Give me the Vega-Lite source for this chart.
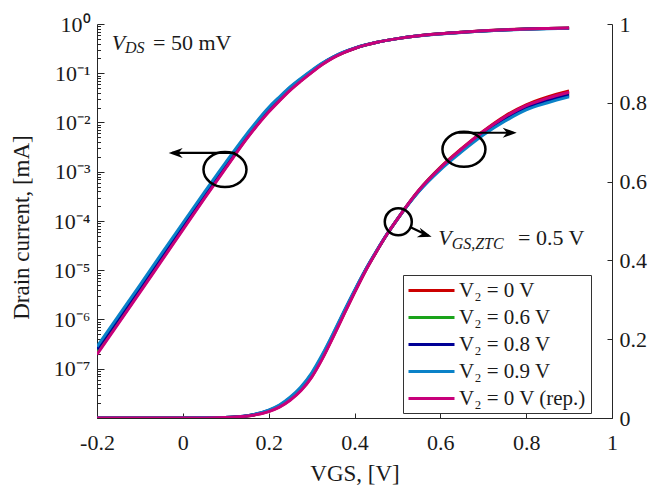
{
  "$schema": "https://vega.github.io/schema/vega-lite/v6.json",
  "width": 515,
  "height": 394,
  "autosize": "none",
  "padding": {"left": 97, "top": 24, "right": 41, "bottom": 68},
  "config": {
    "view": {"stroke": null},
    "font": "Liberation Serif",
    "axis": {"grid": false, "domainColor": "#262626", "tickColor": "#262626", "labelColor": "#1a1a1a", "labelFont": "Liberation Serif", "labelFontSize": 22, "titleFont": "Liberation Serif", "titleFontSize": 23, "titleFontWeight": "normal", "titleColor": "#1a1a1a", "domainWidth": 1, "tickWidth": 1, "labelFlush": false, "labelOverlap": false},
    "text": {"font": "Liberation Serif", "fontSize": 22, "color": "#1a1a1a", "align": "left", "baseline": "alphabetic"},
    "legend": {"orient": "none", "legendX": 306, "legendY": 251, "direction": "vertical", "title": null, "symbolType": "M-1,0L3.6,0", "symbolSize": 400, "symbolStrokeWidth": 3, "labelFont": "Liberation Serif", "labelFontSize": 21, "labelColor": "#1a1a1a", "labelOffset": 29, "rowPadding": 5, "padding": 4, "strokeColor": "#333333", "fillColor": "white", "labelLimit": 300, "cornerRadius": 0}
  },
  "datasets": {
    "curves": [
      {"s": "0 V", "v": -0.2, "i": 2.05e-7}, {"s": "0 V", "v": -0.15, "i": 8.7e-7}, {"s": "0 V", "v": -0.1, "i": 3.7e-6}, {"s": "0 V", "v": -0.05, "i": 1.6e-5}, {"s": "0 V", "v": 0, "i": 6.9e-5}, {"s": "0 V", "v": 0.05, "i": 2.95e-4}, {"s": "0 V", "v": 0.1, "i": 1.22e-3}, {"s": "0 V", "v": 0.15, "i": 4.95e-3}, {"s": "0 V", "v": 0.2, "i": 0.0168}, {"s": "0 V", "v": 0.225, "i": 0.0281}, {"s": "0 V", "v": 0.25, "i": 0.0459}, {"s": "0 V", "v": 0.275, "i": 0.0702}, {"s": "0 V", "v": 0.3, "i": 0.1044}, {"s": "0 V", "v": 0.325, "i": 0.1514}, {"s": "0 V", "v": 0.35, "i": 0.2061}, {"s": "0 V", "v": 0.375, "i": 0.263}, {"s": "0 V", "v": 0.4, "i": 0.3187}, {"s": "0 V", "v": 0.425, "i": 0.3724}, {"s": "0 V", "v": 0.45, "i": 0.4202}, {"s": "0 V", "v": 0.475, "i": 0.465}, {"s": "0 V", "v": 0.5, "i": 0.505}, {"s": "0 V", "v": 0.55, "i": 0.578}, {"s": "0 V", "v": 0.6, "i": 0.636}, {"s": "0 V", "v": 0.65, "i": 0.684}, {"s": "0 V", "v": 0.7, "i": 0.728}, {"s": "0 V", "v": 0.75, "i": 0.766}, {"s": "0 V", "v": 0.8, "i": 0.795}, {"s": "0 V", "v": 0.85, "i": 0.815}, {"s": "0 V", "v": 0.9, "i": 0.83},
      {"s": "0.6 V", "v": -0.2, "i": 2.25e-7}, {"s": "0.6 V", "v": -0.15, "i": 9.5e-7}, {"s": "0.6 V", "v": -0.1, "i": 4.05e-6}, {"s": "0.6 V", "v": -0.05, "i": 1.75e-5}, {"s": "0.6 V", "v": 0, "i": 7.4e-5}, {"s": "0.6 V", "v": 0.05, "i": 3.1e-4}, {"s": "0.6 V", "v": 0.1, "i": 1.29e-3}, {"s": "0.6 V", "v": 0.15, "i": 5.3e-3}, {"s": "0.6 V", "v": 0.2, "i": 0.0183}, {"s": "0.6 V", "v": 0.225, "i": 0.0303}, {"s": "0.6 V", "v": 0.25, "i": 0.0488}, {"s": "0.6 V", "v": 0.275, "i": 0.0738}, {"s": "0.6 V", "v": 0.3, "i": 0.1087}, {"s": "0.6 V", "v": 0.325, "i": 0.1556}, {"s": "0.6 V", "v": 0.35, "i": 0.2096}, {"s": "0.6 V", "v": 0.375, "i": 0.2659}, {"s": "0.6 V", "v": 0.4, "i": 0.3209}, {"s": "0.6 V", "v": 0.425, "i": 0.3737}, {"s": "0.6 V", "v": 0.45, "i": 0.4208}, {"s": "0.6 V", "v": 0.475, "i": 0.4652}, {"s": "0.6 V", "v": 0.5, "i": 0.505}, {"s": "0.6 V", "v": 0.55, "i": 0.577}, {"s": "0.6 V", "v": 0.6, "i": 0.634}, {"s": "0.6 V", "v": 0.65, "i": 0.681}, {"s": "0.6 V", "v": 0.7, "i": 0.725}, {"s": "0.6 V", "v": 0.75, "i": 0.761}, {"s": "0.6 V", "v": 0.8, "i": 0.79}, {"s": "0.6 V", "v": 0.85, "i": 0.809}, {"s": "0.6 V", "v": 0.9, "i": 0.823},
      {"s": "0.8 V", "v": -0.2, "i": 2.5e-7}, {"s": "0.8 V", "v": -0.15, "i": 1.05e-6}, {"s": "0.8 V", "v": -0.1, "i": 4.45e-6}, {"s": "0.8 V", "v": -0.05, "i": 1.92e-5}, {"s": "0.8 V", "v": 0, "i": 8.1e-5}, {"s": "0.8 V", "v": 0.05, "i": 3.4e-4}, {"s": "0.8 V", "v": 0.1, "i": 1.4e-3}, {"s": "0.8 V", "v": 0.15, "i": 5.65e-3}, {"s": "0.8 V", "v": 0.2, "i": 0.0192}, {"s": "0.8 V", "v": 0.225, "i": 0.0316}, {"s": "0.8 V", "v": 0.25, "i": 0.0508}, {"s": "0.8 V", "v": 0.275, "i": 0.0762}, {"s": "0.8 V", "v": 0.3, "i": 0.1115}, {"s": "0.8 V", "v": 0.325, "i": 0.1584}, {"s": "0.8 V", "v": 0.35, "i": 0.212}, {"s": "0.8 V", "v": 0.375, "i": 0.2678}, {"s": "0.8 V", "v": 0.4, "i": 0.3223}, {"s": "0.8 V", "v": 0.425, "i": 0.3746}, {"s": "0.8 V", "v": 0.45, "i": 0.4213}, {"s": "0.8 V", "v": 0.475, "i": 0.4653}, {"s": "0.8 V", "v": 0.5, "i": 0.505}, {"s": "0.8 V", "v": 0.55, "i": 0.576}, {"s": "0.8 V", "v": 0.6, "i": 0.632}, {"s": "0.8 V", "v": 0.65, "i": 0.679}, {"s": "0.8 V", "v": 0.7, "i": 0.722}, {"s": "0.8 V", "v": 0.75, "i": 0.758}, {"s": "0.8 V", "v": 0.8, "i": 0.787}, {"s": "0.8 V", "v": 0.85, "i": 0.806}, {"s": "0.8 V", "v": 0.9, "i": 0.819},
      {"s": "0.9 V", "v": -0.2, "i": 2.82e-7}, {"s": "0.9 V", "v": -0.15, "i": 1.18e-6}, {"s": "0.9 V", "v": -0.1, "i": 5.0e-6}, {"s": "0.9 V", "v": -0.05, "i": 2.15e-5}, {"s": "0.9 V", "v": 0, "i": 9.1e-5}, {"s": "0.9 V", "v": 0.05, "i": 3.8e-4}, {"s": "0.9 V", "v": 0.1, "i": 1.55e-3}, {"s": "0.9 V", "v": 0.15, "i": 6.0e-3}, {"s": "0.9 V", "v": 0.2, "i": 0.0202}, {"s": "0.9 V", "v": 0.225, "i": 0.033}, {"s": "0.9 V", "v": 0.25, "i": 0.0527}, {"s": "0.9 V", "v": 0.275, "i": 0.0787}, {"s": "0.9 V", "v": 0.3, "i": 0.1143}, {"s": "0.9 V", "v": 0.325, "i": 0.161}, {"s": "0.9 V", "v": 0.35, "i": 0.214}, {"s": "0.9 V", "v": 0.375, "i": 0.27}, {"s": "0.9 V", "v": 0.4, "i": 0.324}, {"s": "0.9 V", "v": 0.425, "i": 0.375}, {"s": "0.9 V", "v": 0.45, "i": 0.422}, {"s": "0.9 V", "v": 0.475, "i": 0.4655}, {"s": "0.9 V", "v": 0.5, "i": 0.505}, {"s": "0.9 V", "v": 0.55, "i": 0.575}, {"s": "0.9 V", "v": 0.6, "i": 0.63}, {"s": "0.9 V", "v": 0.65, "i": 0.676}, {"s": "0.9 V", "v": 0.7, "i": 0.718}, {"s": "0.9 V", "v": 0.75, "i": 0.753}, {"s": "0.9 V", "v": 0.8, "i": 0.782}, {"s": "0.9 V", "v": 0.85, "i": 0.8}, {"s": "0.9 V", "v": 0.9, "i": 0.815},
      {"s": "0 V (rep.)", "v": -0.2, "i": 1.95e-7}, {"s": "0 V (rep.)", "v": -0.15, "i": 8.3e-7}, {"s": "0 V (rep.)", "v": -0.1, "i": 3.55e-6}, {"s": "0 V (rep.)", "v": -0.05, "i": 1.53e-5}, {"s": "0 V (rep.)", "v": 0, "i": 6.6e-5}, {"s": "0 V (rep.)", "v": 0.05, "i": 2.85e-4}, {"s": "0 V (rep.)", "v": 0.1, "i": 1.18e-3}, {"s": "0 V (rep.)", "v": 0.15, "i": 4.8e-3}, {"s": "0 V (rep.)", "v": 0.2, "i": 0.0163}, {"s": "0 V (rep.)", "v": 0.225, "i": 0.0275}, {"s": "0 V (rep.)", "v": 0.25, "i": 0.045}, {"s": "0 V (rep.)", "v": 0.275, "i": 0.069}, {"s": "0 V (rep.)", "v": 0.3, "i": 0.103}, {"s": "0 V (rep.)", "v": 0.325, "i": 0.15}, {"s": "0 V (rep.)", "v": 0.35, "i": 0.205}, {"s": "0 V (rep.)", "v": 0.375, "i": 0.262}, {"s": "0 V (rep.)", "v": 0.4, "i": 0.318}, {"s": "0 V (rep.)", "v": 0.425, "i": 0.372}, {"s": "0 V (rep.)", "v": 0.45, "i": 0.42}, {"s": "0 V (rep.)", "v": 0.475, "i": 0.465}, {"s": "0 V (rep.)", "v": 0.5, "i": 0.505}, {"s": "0 V (rep.)", "v": 0.55, "i": 0.578}, {"s": "0 V (rep.)", "v": 0.6, "i": 0.635}, {"s": "0 V (rep.)", "v": 0.65, "i": 0.683}, {"s": "0 V (rep.)", "v": 0.7, "i": 0.727}, {"s": "0 V (rep.)", "v": 0.75, "i": 0.764}, {"s": "0 V (rep.)", "v": 0.8, "i": 0.793}, {"s": "0 V (rep.)", "v": 0.85, "i": 0.812}, {"s": "0 V (rep.)", "v": 0.9, "i": 0.827}
    ]
  },
  "encoding": {
    "x": {"field": "v", "type": "quantitative", "scale": {"domain": [-0.2, 1], "nice": false, "zero": false},
      "axis": {"values": [-0.2, 0, 0.2, 0.4, 0.6, 0.8, 1], "labelExpr": "replace(format(datum.value, '.1~f'), '−', '-')", "tickSize": -5, "labelPadding": 19, "title": "VGS, [V]", "titleX": 257.5, "titleY": 62, "titleBaseline": "alphabetic", "titleAlign": "center"}}
  },
  "layer": [
    {
      "encoding": {
        "y": {"field": "i", "type": "quantitative", "scale": {"type": "log", "domain": [1e-8, 1], "nice": false},
          "axis": {"orient": "left",
            "values": [1e-8,2e-8,3e-8,4e-8,5e-8,6e-8,7e-8,8e-8,9e-8,1e-7,2e-7,3e-7,4e-7,5e-7,6e-7,7e-7,8e-7,9e-7,1e-6,2e-6,3e-6,4e-6,5e-6,6e-6,7e-6,8e-6,9e-6,1e-5,2e-5,3e-5,4e-5,5e-5,6e-5,7e-5,8e-5,9e-5,1e-4,2e-4,3e-4,4e-4,5e-4,6e-4,7e-4,8e-4,9e-4,0.001,0.002,0.003,0.004,0.005,0.006,0.007,0.008,0.009,0.01,0.02,0.03,0.04,0.05,0.06,0.07,0.08,0.09,0.1,0.2,0.3,0.4,0.5,0.6,0.7,0.8,0.9,1],
            "labelExpr": "abs(log(datum.value)/LN10 - round(log(datum.value)/LN10)) < 0.001 ? ['10⁰','10⁻¹','10⁻²','10⁻³','10⁻⁴','10⁻⁵','10⁻⁶','10⁻⁷',''][-round(log(datum.value)/LN10)] : ''",
            "tickSize": {"condition": {"test": "abs(log(datum.value)/LN10 - round(log(datum.value)/LN10)) < 0.001", "value": -7}, "value": -3.5},
            "labelPadding": 14, "labelBaseline": "middle",
            "title": "Drain current, [mA]", "titleX": -69, "titleY": 203, "titleAngle": -90, "titleBaseline": "alphabetic", "titleAlign": "center"}}
      },
      "layer": [
        {"data": {"name": "curves"}, "transform": [{"filter": "datum.s != '0 V (rep.)'"}],
          "mark": {"type": "line", "strokeWidth": 3, "clip": true, "interpolate": "monotone"},
          "encoding": {"color": {"field": "s", "type": "nominal", "scale": {"domain": ["0 V", "0.6 V", "0.8 V", "0.9 V", "0 V (rep.)"], "range": ["#cc0000", "#1aa31a", "#000096", "#0a82c8", "#c8007a"]},
            "legend": {"labelExpr": "'V₂ = ' + datum.label"}}}},
        {"data": {"name": "curves"}, "transform": [{"filter": "datum.s == '0 V (rep.)'"}],
          "mark": {"type": "line", "strokeWidth": 3, "clip": true, "interpolate": "monotone"},
          "encoding": {"color": {"field": "s", "type": "nominal", "scale": {"domain": ["0 V", "0.6 V", "0.8 V", "0.9 V", "0 V (rep.)"], "range": ["#cc0000", "#1aa31a", "#000096", "#0a82c8", "#c8007a"]},
            "legend": {"labelExpr": "'V₂ = ' + datum.label"}}}},
        {"data": {"values": [{"v": 0.0982, "i": 0.001109}]},
          "mark": {"type": "point", "shape": "M-1,0A1,0.814 0 1,1 1,0A1,0.814 0 1,1 -1,0Z", "size": 1849, "filled": false, "color": "black", "strokeWidth": 2.5, "opacity": 1}},
        {"data": {"values": [{"v": 0.122, "i": 0.00241}, {"v": -0.025, "i": 0.00241}]},
          "mark": {"type": "line", "color": "black", "strokeWidth": 2.2}, "encoding": {}},
        {"data": {"values": [{"v": -0.033, "i": 0.00241}]},
          "mark": {"type": "point", "shape": "M0,0L1,-0.36L0.7,0L1,0.36Z", "size": 784, "filled": true, "color": "black", "opacity": 1}},
        {"data": {"values": [{"v": -0.1658, "i": 0.298, "t": "V"}]},
          "mark": {"type": "text", "fontStyle": "italic", "fontSize": 22}, "encoding": {"text": {"field": "t"}}},
        {"data": {"values": [{"v": -0.1348, "i": 0.259, "t": "DS"}]},
          "mark": {"type": "text", "fontStyle": "italic", "fontSize": 16}, "encoding": {"text": {"field": "t"}}},
        {"data": {"values": [{"v": -0.0695, "i": 0.298, "t": "= 50 mV"}]},
          "mark": {"type": "text", "fontSize": 22}, "encoding": {"text": {"field": "t"}}}
      ]
    },
    {
      "encoding": {
        "y": {"field": "i", "type": "quantitative", "scale": {"domain": [0, 1], "nice": false},
          "axis": {"orient": "right", "values": [0, 0.2, 0.4, 0.6, 0.8, 1], "labelExpr": "format(datum.value, '.1~f')", "tickSize": -5, "labelPadding": 12, "title": null}}
      },
      "layer": [
        {"data": {"name": "curves"}, "transform": [{"filter": "datum.s != '0 V (rep.)'"}],
          "mark": {"type": "line", "strokeWidth": 3, "clip": true, "interpolate": "monotone"},
          "encoding": {"color": {"field": "s", "type": "nominal", "scale": {"domain": ["0 V", "0.6 V", "0.8 V", "0.9 V", "0 V (rep.)"], "range": ["#cc0000", "#1aa31a", "#000096", "#0a82c8", "#c8007a"]},
            "legend": {"labelExpr": "'V₂ = ' + datum.label"}}}},
        {"data": {"name": "curves"}, "transform": [{"filter": "datum.s == '0 V (rep.)'"}],
          "mark": {"type": "line", "strokeWidth": 3, "clip": true, "interpolate": "monotone"},
          "encoding": {"color": {"field": "s", "type": "nominal", "scale": {"domain": ["0 V", "0.6 V", "0.8 V", "0.9 V", "0 V (rep.)"], "range": ["#cc0000", "#1aa31a", "#000096", "#0a82c8", "#c8007a"]},
            "legend": {"labelExpr": "'V₂ = ' + datum.label"}}}},
        {"data": {"values": [{"v": 0.655, "i": 0.682}]},
          "mark": {"type": "point", "shape": "M-1,0A1,0.814 0 1,1 1,0A1,0.814 0 1,1 -1,0Z", "size": 1849, "filled": false, "color": "black", "strokeWidth": 2.5, "opacity": 1}},
        {"data": {"values": [{"v": 0.642, "i": 0.724}, {"v": 0.77, "i": 0.724}]},
          "mark": {"type": "line", "color": "black", "strokeWidth": 2.2}, "encoding": {}},
        {"data": {"values": [{"v": 0.778, "i": 0.724}]},
          "mark": {"type": "point", "shape": "M0,0L-1,-0.36L-0.7,0L-1,0.36Z", "size": 784, "filled": true, "color": "black", "opacity": 1}},
        {"data": {"values": [{"v": 0.502, "i": 0.498}]},
          "mark": {"type": "point", "shape": "circle", "size": 729, "filled": false, "color": "black", "strokeWidth": 2.5, "opacity": 1}},
        {"data": {"values": [{"v": 0.5307, "i": 0.4843}, {"v": 0.572, "i": 0.4625}]},
          "mark": {"type": "line", "color": "black", "strokeWidth": 2.2}, "encoding": {}},
        {"data": {"values": [{"v": 0.5798, "i": 0.46}]},
          "mark": {"type": "point", "shape": "M0,0L-1,-0.36L-0.7,0L-1,0.36Z", "size": 784, "angle": 17.5, "filled": true, "color": "black", "opacity": 1}},
        {"data": {"values": [{"v": 0.5952, "i": 0.4391, "t": "V"}]},
          "mark": {"type": "text", "fontStyle": "italic", "fontSize": 22}, "encoding": {"text": {"field": "t"}}},
        {"data": {"values": [{"v": 0.6264, "i": 0.4289, "t": "GS,ZTC"}]},
          "mark": {"type": "text", "fontStyle": "italic", "fontSize": 16}, "encoding": {"text": {"field": "t"}}},
        {"data": {"values": [{"v": 0.7809, "i": 0.4391, "t": "= 0.5 V"}]},
          "mark": {"type": "text", "fontSize": 22}, "encoding": {"text": {"field": "t"}}}
      ]
    }
  ],
  "resolve": {"scale": {"y": "independent"}}
}
